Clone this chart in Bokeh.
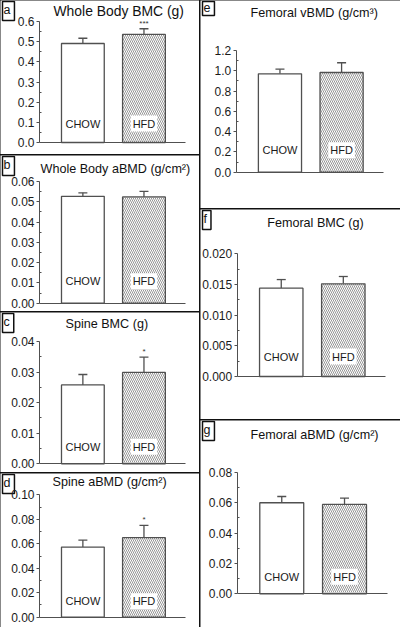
from bokeh.plotting import figure
from bokeh.layouts import row, column
from bokeh.models import (ColumnDataSource, Whisker, TeeHead, FixedTicker,
                          PrintfTickFormatter, Range1d, LinearAxis)
from bokeh.core.properties import value
from bokeh.embed import file_html
from bokeh.resources import INLINE

# ---------------- data ----------------
groups = ["CHOW", "HFD"]
group_pos = [1, 2]
patterns = [" ", "\\"]

wb_bmc = [0.491, 0.536]
wb_bmc_err = [0.026, 0.028]
wb_bmc_sig = ["", "***"]

wb_abmd = [0.0527, 0.0524]
wb_abmd_err = [0.0017, 0.0027]
wb_abmd_sig = ["", ""]

spine_bmc = [0.0258, 0.0299]
spine_bmc_err = [0.0034, 0.0050]
spine_bmc_sig = ["", "*"]

spine_abmd = [0.0573, 0.0650]
spine_abmd_err = [0.0057, 0.0100]
spine_abmd_sig = ["", "*"]

fem_vbmd = [0.970, 0.983]
fem_vbmd_err = [0.046, 0.096]
fem_vbmd_sig = ["", ""]

fem_bmc = [0.0144, 0.0151]
fem_bmc_err = [0.0014, 0.0012]
fem_bmc_sig = ["", ""]

fem_abmd = [0.0599, 0.0588]
fem_abmd_err = [0.0041, 0.0042]
fem_abmd_sig = ["", ""]

FONT = "Liberation Sans"
AX = "#505050"
X0, X1 = 0.29, 2.68


def panel(letter, title, vals, errs, sig, ymax, step, fmt,
          W, H, fl, fr, ft, fb, tx, ty, tsize, name_off):
    # frame covers the whole panel; axes are pinned inside it
    kx = (X1 - X0) / (fr - fl)
    ky = ymax / (fb - ft)
    xs, xe = X0 - fl * kx, X1 + (W - fr) * kx
    ys, ye = -(H - fb) * ky, ymax + ft * ky

    p = figure(width=W, height=H, x_range=Range1d(xs, xe), y_range=Range1d(ys, ye),
               output_backend="svg", toolbar_location=None,
               x_axis_type=None, y_axis_type=None,
               min_border_left=0, min_border_right=0,
               min_border_top=0, min_border_bottom=0)
    p.outline_line_color = None
    p.grid.visible = False
    p.styles = {"outline": "2px solid #111", "outline-offset": "-1px"}

    def dx(px):
        return X0 + (px - fl) * kx

    def dy(py):
        return ymax - (py - ft) * ky

    n = int(round(ymax / step))
    ticks = [round(i * step, 10) for i in range(n + 1)]
    minors = [round((i + 0.5) * step, 10) for i in range(n)]
    yax = LinearAxis(ticker=FixedTicker(ticks=ticks, minor_ticks=minors),
                     formatter=PrintfTickFormatter(format=fmt),
                     fixed_location=X0, bounds=(0, ymax))
    yax.axis_line_color = AX
    yax.axis_line_width = 1
    yax.major_tick_line_color = AX
    yax.minor_tick_line_color = AX
    yax.major_tick_out = 3
    yax.major_tick_in = 0
    yax.minor_tick_out = 0
    yax.minor_tick_in = 2
    yax.major_label_standoff = 2
    yax.major_label_text_font = FONT
    yax.major_label_text_font_size = "12px"
    yax.major_label_text_color = "#1a1a1a"
    p.add_layout(yax, "left")

    xax = LinearAxis(ticker=FixedTicker(ticks=[]), fixed_location=0, bounds=(X0, X1))
    xax.axis_line_color = AX
    xax.major_label_text_font_size = "0px"
    xax.major_tick_out = 0
    xax.minor_tick_out = 0
    xax.major_label_standoff = 0
    p.add_layout(xax, "below")

    src = ColumnDataSource(dict(
        x=group_pos, top=vals, upper=[v + e for v, e in zip(vals, errs)],
        pat=patterns, name=groups, sig=sig, zero=[0, 0]))

    p.vbar(x="x", top="top", width=0.7, source=src, fill_color="white",
           line_color=AX, line_width=1.3, hatch_pattern="pat",
           hatch_color="#8a8a8a", hatch_scale=4, hatch_weight=0.9)

    w = Whisker(source=src, base="x", lower="top", upper="upper",
                line_color=AX, line_width=1.3,
                upper_head=TeeHead(size=9, line_color=AX, line_width=1.3),
                lower_head=None)
    p.add_layout(w)

    p.text(x="x", y="zero", text="name", source=src, text_align="center",
           text_baseline="middle", y_offset=-name_off, text_font=value(FONT),
           text_font_size="11px", text_color="#1a1a1a",
           background_fill_color="white", padding=2)

    p.text(x="x", y="upper", text="sig", source=src, text_align="center",
           text_baseline="bottom", y_offset=-1, text_font=value(FONT),
           text_font_size="8px", text_color="#333333")

    p.text(x=[dx(tx)], y=[dy(ty)], text=[title], text_align="left",
           text_baseline="middle", text_font=value(FONT),
           text_font_size=tsize, text_color="#111111")
    p.text(x=[dx(2)], y=[dy(1)], text=[letter], text_align="left",
           text_baseline="top", text_font=value(FONT),
           text_font_size="12.5px", text_color="#111111",
           background_fill_color="white", border_line_color="#111111",
           border_line_width=1.5, padding=[1, 4, 1, 4])
    return p


pa = panel("a", "Whole Body BMC (g)", wb_bmc, wb_bmc_err, wb_bmc_sig, 0.6, 0.1, "%.1f",
           200, 155, 39, 185, 21, 142, 53, 10, "13.9px", 19)
pb = panel("b", "Whole Body aBMD (g/cm²)", wb_abmd, wb_abmd_err, wb_abmd_sig, 0.06, 0.01, "%.2f",
           200, 157, 39, 185, 26, 147.7, 40, 13, "12.6px", 22)
pc = panel("c", "Spine BMC (g)", spine_bmc, spine_bmc_err, spine_bmc_sig, 0.04, 0.01, "%.2f",
           200, 161, 39, 185, 29, 151.3, 65, 11, "12.6px", 17)
pd = panel("d", "Spine aBMD (g/cm²)", spine_abmd, spine_abmd_err, spine_abmd_sig, 0.10, 0.02, "%.2f",
           200, 154, 39, 185, 21.3, 143.7, 52, 8, "12.6px", 16)
pe = panel("e", "Femoral vBMD (g/cm³)", fem_vbmd, fem_vbmd_err, fem_vbmd_sig, 1.2, 0.2, "%.1f",
           200, 209, 35.7, 183, 50, 171.7, 50, 12.7, "12.6px", 22)
pf = panel("f", "Femoral BMC (g)", fem_bmc, fem_bmc_err, fem_bmc_sig, 0.020, 0.005, "%.3f",
           200, 211, 36.7, 185, 44.3, 167, 66.7, 13.7, "12.6px", 20)
pg = panel("g", "Femoral aBMD (g/cm²)", fem_abmd, fem_abmd_err, fem_abmd_sig, 0.08, 0.02, "%.2f",
           200, 207, 36.7, 186.7, 51.7, 173.3, 50, 14, "12.6px", 17)

layout = row(column(pa, pb, pc, pd), column(pe, pf, pg))

open("out.html", "w").write(file_html(layout, INLINE))
